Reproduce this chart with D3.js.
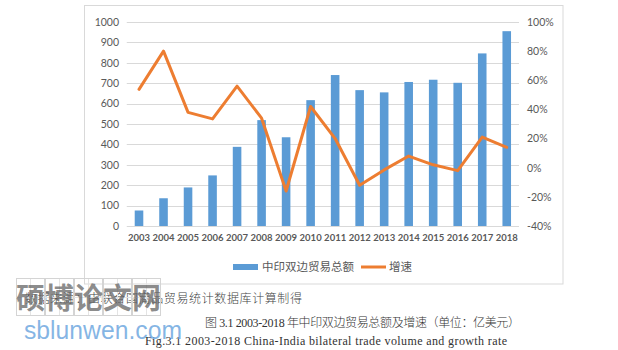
<!DOCTYPE html>
<html><head><meta charset="utf-8">
<script src="https://cdn.jsdelivr.net/npm/d3@7"></script>
<style>
html,body{margin:0;padding:0;background:#fff;}
svg{display:block;}
</style></head>
<body>
<svg id="c" width="618" height="350"></svg>
<script>
const years = ["2003","2004","2005","2006","2007","2008","2009","2010","2011","2012","2013","2014","2015","2016","2017","2018"];
const tradeVolume = [76, 136, 189, 248, 388, 519, 435, 617, 740, 666, 655, 706, 717, 702, 846, 955];
const growthRate = [53.8, 80, 38, 33.5, 56, 34, -16, 42, 20, -12, -1.5, 8, 2, -2, 21, 14];
const leftTicks = [0,100,200,300,400,500,600,700,800,900,1000];
const rightTicks = [-40,-20,0,20,40,60,80,100];
const legendLabels = ["中印双边贸易总额","增速"];
const sourceText = "数据来源：由联合国商品贸易统计数据库计算制得";
const captionCN = "图 3.1 2003-2018 年中印双边贸易总额及增速（单位：亿美元）";
const captionEN = "Fig.3.1 2003-2018 China-India bilateral trade volume and growth rate";
const watermarkChars = ["硕","博","论","文","网"];
const watermarkURL = "sblunwen.com";

const svg = d3.select("#c");
const txtColor = "#595959";
const chartFont = "Lato, 'Open Sans', 'Noto Sans CJK SC', sans-serif";

// frame
svg.append("rect").attr("x",84.5).attr("y",5.5).attr("width",478.5).attr("height",278.5)
  .attr("fill","#fff").attr("stroke","#d9d9d9").attr("stroke-width",1);

const x = d3.scaleBand().domain(years).range([126.75,519]).paddingInner(0.65).paddingOuter(0.325);
const yL = d3.scaleLinear().domain([0,1000]).range([226,22]);
const yR = d3.scaleLinear().domain([-40,100]).range([226,22]);

// gridlines
svg.append("g").selectAll("line").data(leftTicks).join("line")
  .attr("x1",126.75).attr("x2",519)
  .attr("y1",d=>Math.round(yL(d))+0.5).attr("y2",d=>Math.round(yL(d))+0.5)
  .attr("stroke","#d9d9d9").attr("stroke-width",1);

// left axis
const axL = d3.axisLeft(yL).tickValues(leftTicks).tickSize(0).tickPadding(0).tickFormat(d3.format("d"));
const gL = svg.append("g").attr("transform","translate(119,0)").call(axL);
gL.select(".domain").remove();
gL.selectAll("text").attr("font-family",chartFont).attr("font-size",10.5).attr("fill",txtColor);

// right axis
const axR = d3.axisRight(yR).tickValues(rightTicks).tickSize(0).tickPadding(0).tickFormat(d=>d+"%");
const gR = svg.append("g").attr("transform","translate(527,0)").call(axR);
gR.select(".domain").remove();
gR.selectAll("text").attr("font-family",chartFont).attr("font-size",10.5).attr("fill",txtColor);

// bottom axis
const axB = d3.axisBottom(x).tickSize(0).tickPadding(0);
const gB = svg.append("g").attr("transform","translate(0,234)").call(axB);
gB.select(".domain").remove();
gB.selectAll("text").attr("font-family",chartFont).attr("font-size",9.5).attr("font-weight","bold").attr("fill",txtColor);

// bars
svg.append("g").selectAll("rect").data(years).join("rect")
  .attr("x",(d)=>x(d)).attr("width",x.bandwidth())
  .attr("y",(d,i)=>yL(tradeVolume[i])).attr("height",(d,i)=>yL(0)-yL(tradeVolume[i]))
  .attr("fill","#5b9bd5");

// line
const line = d3.line().x((d,i)=>x(years[i])+x.bandwidth()/2).y(d=>yR(d));
svg.append("path").datum(growthRate).attr("d",line)
  .attr("fill","none").attr("stroke","#ed7d31").attr("stroke-width",3).attr("stroke-linejoin","round").attr("stroke-linecap","round");

// legend
const lg = svg.append("g").attr("font-family",chartFont).attr("font-size",11.5).attr("fill",txtColor);
lg.append("rect").attr("x",233).attr("y",264).attr("width",25).attr("height",6).attr("fill","#5b9bd5");
lg.append("text").attr("x",262).attr("y",271).text(legendLabels[0]);
lg.append("line").attr("x1",361).attr("x2",386).attr("y1",267).attr("y2",267).attr("stroke","#ed7d31").attr("stroke-width",3);
lg.append("text").attr("x",389).attr("y",271).text(legendLabels[1]);

// captions
const capFont = "'Liberation Serif', 'Noto Sans CJK SC', serif";
svg.append("text").attr("x",25).attr("y",303).attr("font-family","'Noto Sans CJK SC', sans-serif").attr("font-weight",300)
  .attr("font-size",12).attr("fill","#444").attr("textLength",277).attr("lengthAdjust","spacing").text(sourceText);
svg.append("text").attr("x",205).attr("y",327).attr("font-family",capFont).attr("font-weight",300)
  .attr("font-size",12).attr("fill","#333").attr("textLength",315).attr("lengthAdjust","spacing").text(captionCN);
svg.append("text").attr("x",145).attr("y",345).attr("font-family",capFont)
  .attr("font-size",12).attr("fill","#333").attr("textLength",362).attr("lengthAdjust","spacing").text(captionEN);

// watermark
const wm = svg.append("g");
watermarkChars.forEach((c,i)=>{
  const bx = 16 + i*29;
  wm.append("rect").attr("x",bx+0.5).attr("y",278.5).attr("width",28).attr("height",37)
    .attr("fill","none").attr("stroke","#d4d4d4").attr("stroke-width",1);
  wm.append("line").attr("x1",bx+14.5).attr("x2",bx+14.5).attr("y1",279).attr("y2",315).attr("stroke","#e4e4e4");
  wm.append("line").attr("x1",bx).attr("x2",bx+28).attr("y1",297.5).attr("y2",297.5).attr("stroke","#e4e4e4");
  wm.append("text").attr("x",bx+14.5).attr("y",309).attr("text-anchor","middle")
    .attr("font-family","'Noto Sans CJK SC', sans-serif").attr("font-weight",700).attr("font-size",29)
    .attr("fill","#666").attr("fill-opacity",0.75).text(c);
});
wm.append("text").attr("x",24).attr("y",339).attr("font-family","'Liberation Sans', Arial, sans-serif")
  .attr("font-size",25).attr("fill","#6fa8e0").attr("fill-opacity",0.85).attr("textLength",158).attr("lengthAdjust","spacingAndGlyphs").text(watermarkURL);
</script>
</body></html>
